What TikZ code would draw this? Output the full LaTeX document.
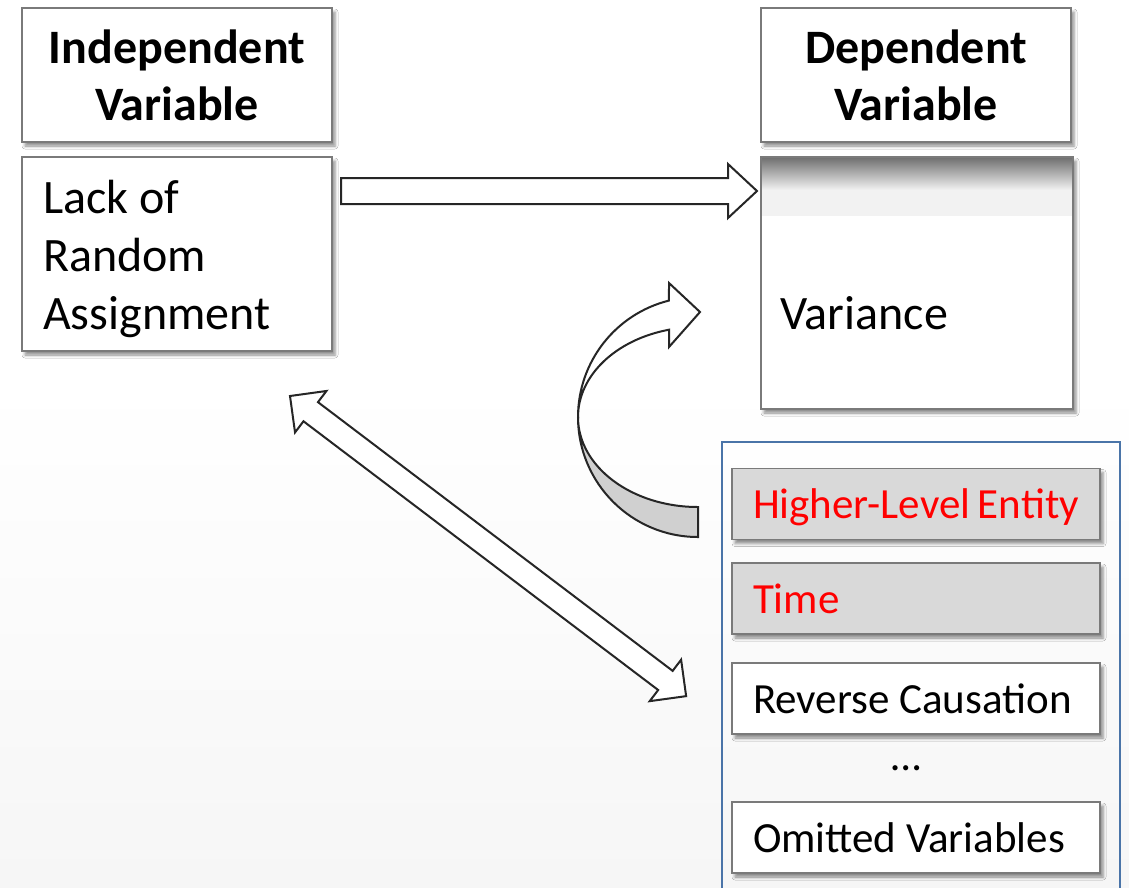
\documentclass[tikz,border=0pt]{standalone}
\usepackage{fontspec}
\setmainfont{Carlito}
\usetikzlibrary{shadows.blur}
\definecolor{boxline}{HTML}{7A7A7A}
\definecolor{arrline}{HTML}{262626}
\definecolor{listfill}{HTML}{D9D9D9}
\definecolor{blueline}{HTML}{4A74A8}
\definecolor{bandtop}{HTML}{6E6E6E}
\definecolor{bandbot}{HTML}{F2F2F2}
\definecolor{bgbot}{HTML}{F6F6F6}
\definecolor{curvgray}{HTML}{D0D0D0}
\definecolor{redtext}{HTML}{FF0000}
\newcommand\hdrfont{\bfseries\fontsize{48}{57}\selectfont}
\newcommand\bodyfont{\fontsize{48}{58}\selectfont}
\newcommand\listfont{\fontsize{43}{50}\selectfont}
\begin{document}
\begin{tikzpicture}[x=1pt,y=-1pt,
  box/.style={draw=boxline, line width=1.5pt, fill=white,
    blur shadow={shadow xshift=3pt, shadow yshift=-4pt, shadow blur radius=3pt, shadow opacity=45}},
  hdr/.style={box, font=\hdrfont, align=center, minimum width=310pt, minimum height=134pt, inner sep=0pt},
  lbox/.style={box, font=\listfont, minimum width=368pt, minimum height=71pt,
    text width=326pt, inner xsep=21pt, inner ysep=0pt, align=flush left, text height=30pt, text depth=1pt},
  blockarrow/.style={draw=arrline, line width=2pt, fill=white, line join=miter}
]
\useasboundingbox (0,0) rectangle (1129,887);
\clip (0,0) rectangle (1129,887);
\fill[white] (0,0) rectangle (1129,887);
\shade[top color=white, bottom color=bgbot] (0,380) rectangle (1129,887);

% headers
\node[hdr] (ivh) at (177,75) {Independent\\Variable};
\node[hdr] (dvh) at (916,75) {Dependent\\Variable};

% bodies
\node[box, minimum width=310pt, minimum height=194pt, inner sep=0pt] (ivbody) at (177,254) {};
\node[anchor=west, inner sep=0pt, font=\bodyfont, align=left] (ivtext) at (43,259) {Lack of\\Random\\Assignment};
\node[box, minimum width=312pt, minimum height=252pt, inner sep=0pt,
  path picture={
    \fill[bandbot] (path picture bounding box.north west) rectangle ([yshift=-59pt]path picture bounding box.north east);
    \shade[top color=bandtop, bottom color=bandbot] (path picture bounding box.north west) rectangle ([yshift=-33pt]path picture bounding box.north east);
  }] (dvbody) at (917,283) {};
\node[anchor=west, inner sep=0pt, font=\bodyfont] (var) at (780,313) {Variance};

% group box
\node[draw=blueline, line width=2pt, minimum width=398pt, minimum height=470pt, anchor=north west, inner sep=0pt] (grp) at (721,441) {};

\node[lbox, fill=listfill, text=redtext] (hle) at (916,504) {Higher-Level~Entity};
\node[lbox, fill=listfill, text=redtext] (time) at (916,598.5) {Time};
\node[lbox] (rc) at (916,698.5) {Reverse~Causation};
\node[font=\listfont, inner sep=0pt] (dots) at (906,768) {…};
\node[lbox] (ov) at (916,837.5) {Omitted~Variables};

% right block arrow
\begin{scope}[shift={(341,191)}]
\draw[blockarrow] (0,-13) -- (387,-13) -- (387,-27) -- (416,0) -- (387,27) -- (387,13) -- (0,13) -- cycle;
\end{scope}

% double block arrow
\begin{scope}[shift={(290,396)}, rotate=-37.15]
\draw[blockarrow] (0,0) -- (26,-26) -- (26,-12) -- (471,-12) -- (471,-26) -- (497,0)
  -- (471,26) -- (471,12) -- (26,12) -- (26,26) -- cycle;
\end{scope}

% curved arrow
\draw[draw=arrline, line width=2pt, fill=curvgray, line join=miter]
  (578,417) arc[start angle=180, end angle=90, radius=120] -- (698,507)
  arc[start angle=90, end angle=180, x radius=120, y radius=90] -- cycle;
\draw[blockarrow]
  (578,417) arc[start angle=180, end angle=256, radius=120] -- (669,283) -- (700,312) -- (669,347) -- (669,329.7)
  arc[start angle=256, end angle=180, x radius=120, y radius=90] -- cycle;
\end{tikzpicture}
\end{document}
